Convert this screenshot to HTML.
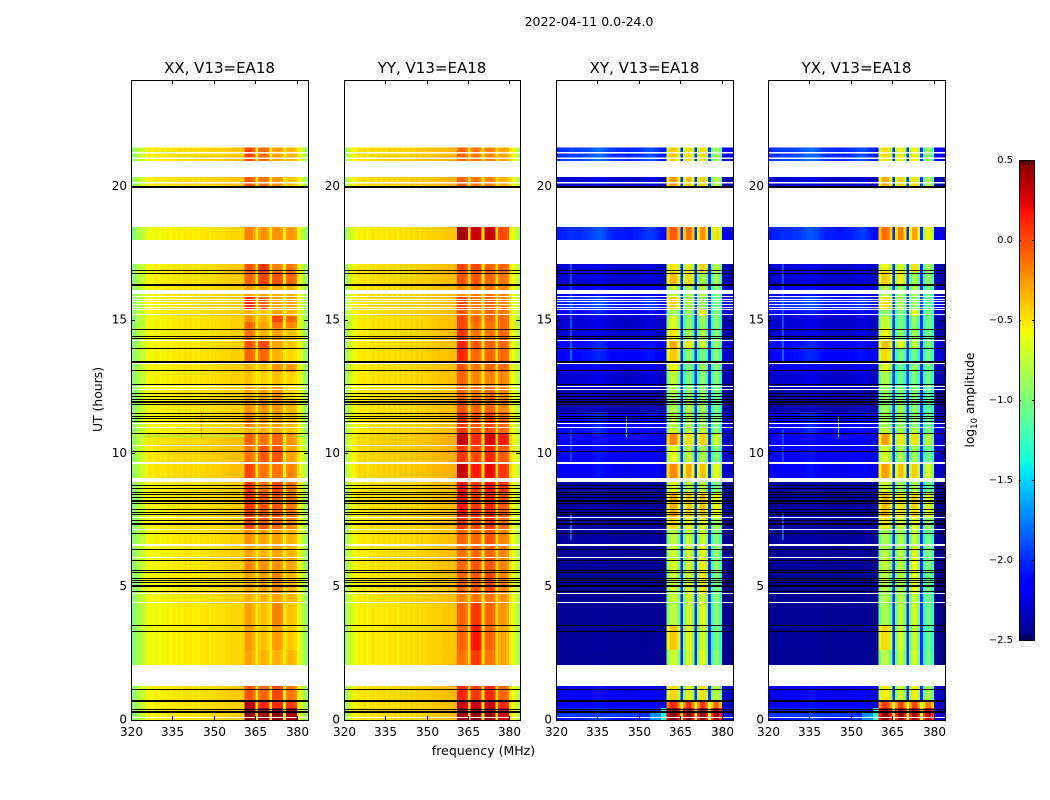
<!DOCTYPE html>
<html lang="en">
<head>
<meta charset="utf-8">
<title>2022-04-11 amplitude waterfall</title>
<style>
html,body{margin:0;padding:0;background:#fff;width:1050px;height:800px;overflow:hidden}
svg{display:block}
text{font-family:"DejaVu Sans","Liberation Sans",sans-serif;fill:#000}
</style>
</head>
<body>
<svg id="chart" xmlns="http://www.w3.org/2000/svg" width="1050" height="800" viewBox="0 0 1050 800">
<rect width="1050" height="800" fill="#fff"/>
<text x="589" y="26" text-anchor="middle" font-size="12.5">2022-04-11 0.0-24.0</text>
<text x="483.500" y="755" text-anchor="middle" font-size="12.5">frequency (MHz)</text>
<text transform="translate(102,399.500) rotate(-90)" text-anchor="middle" font-size="12.4">UT (hours)</text>
<text transform="translate(974,400) rotate(-90)" text-anchor="middle" font-size="12.2">log<tspan font-size="8.5" dy="3">10</tspan><tspan dy="-3"> amplitude</tspan></text>
<g id="panels"></g>
<g id="colorbar"></g>
</svg>
<script>
const panelTitles = ["XX, V13=EA18", "YY, V13=EA18", "XY, V13=EA18", "YX, V13=EA18"];
const freqTicks = [320, 335, 350, 365, 380];
const hourTicks = [0, 5, 10, 15, 20];
const colorbarTicks = [-2.5, -2.0, -1.5, -1.0, -0.5, 0.0, 0.5];

/* channel role: -1 continuum, -2 gap between sub-bands, 0..3 sub-band index */
const parallelChannelRole = [-1,-1,-1,-1,-1,-1,-1,-1,-1,-1,-1,-1,-1,-1,-1,-1,-1,-1,-1,-1,-1,-1,-1,-1,-1,-1,-1,-1,-1,-1,-1,-1,-1,-1,-1,-1,-1,-1,-1,-1,-1,0,0,0,0,-2,1,1,1,1,-2,2,2,2,2,-2,3,3,3,3,-1,-1,-1,-1];
const crossChannelRole = [-1,-1,-1,-1,-1,-1,-1,-1,-1,-1,-1,-1,-1,-1,-1,-1,-1,-1,-1,-1,-1,-1,-1,-1,-1,-1,-1,-1,-1,-1,-1,-1,-1,-1,-1,-1,-1,-1,-1,-1,0,0,0,0,0,-2,1,1,1,1,-2,2,2,2,2,-2,3,3,3,3,-1,-1,-1,-1];

/* log10 amplitude by channel; sub-band channels are relative to the band level */
const xxSpectrum = [-0.95,-0.88,-0.80,-0.74,-0.70,-0.62,-0.52,-0.56,-0.52,-0.50,-0.54,-0.50,-0.52,-0.48,-0.52,-0.48,-0.50,-0.47,-0.50,-0.46,-0.49,-0.46,-0.50,-0.46,-0.50,-0.46,-0.47,-0.45,-0.47,-0.44,-0.45,-0.44,-0.44,-0.43,-0.42,-0.42,-0.40,-0.40,-0.40,-0.40,-0.42,0.02,0.02,0.02,-0.06,-0.52,-0.03,0.02,0.02,-0.03,-0.55,0,0.02,0.02,-0.02,-0.52,-0.02,0.02,0,-0.04,-0.50,-0.62,-0.76,-0.88];
const yySpectrum = [-0.85,-0.75,-0.65,-0.58,-0.52,-0.47,-0.50,-0.45,-0.52,-0.47,-0.44,-0.50,-0.44,-0.48,-0.43,-0.49,-0.43,-0.47,-0.42,-0.48,-0.42,-0.46,-0.42,-0.46,-0.41,-0.45,-0.40,-0.44,-0.40,-0.42,-0.39,-0.40,-0.38,-0.38,-0.37,-0.37,-0.36,-0.36,-0.35,-0.34,-0.35,0.02,0.02,0.02,-0.06,-0.48,-0.03,0.02,0.02,-0.03,-0.50,0,0.02,0.02,-0.02,-0.46,-0.02,0.02,0,-0.04,-0.48,-0.55,-0.66,-0.80];
const crossSpectrum = [1.0,1.0,1.05,1.05,1.1,1.15,1.1,1.1,1.1,1.15,1.15,1.2,1.25,1.3,1.35,1.4,1.35,1.3,1.2,1.1,1.05,1.0,1.0,1.0,1.0,0.95,0.95,0.95,1.0,1.0,1.05,1.1,1.15,1.2,1.2,1.15,1.05,0.95,0.9,0.85,-0.25,0.02,0.02,0,-0.3,-2.0,-0.3,0,0.02,-0.3,-2.0,-0.3,0,0,-0.3,-2.0,-0.35,-0.03,0,-0.3,0.65,0.6,0.6,0.65];

/* time bands */
const bandTopHour = [21.46,20.36,18.49,17.1,16.8,16.31,15.9,15.38,15.15,14.93,14.7,14.21,13.91,13.43,13.05,12.53,12.0,11.55,10.95,10.73,10.28,9.64,8.93,8.55,7.58,7.13,6.53,6.08,5.55,4.76,4.39,3.56,2.63,1.28,0.75,0.45];
const bandBottomHour = [20.96,19.96,18.0,16.8,16.31,15.9,15.38,15.15,14.93,14.7,14.21,13.91,13.43,13.05,12.53,12.0,11.55,10.95,10.73,10.28,9.64,9.08,8.55,7.58,7.13,6.53,6.08,5.55,4.76,4.39,3.56,2.63,2.06,0.75,0.45,0];

const xxBandLevels = [
[0.0,-0.1,-0.3,-0.35],[-0.05,-0.15,-0.25,-0.4],[-0.2,-0.25,-0.25,-0.25],[-0.05,0.05,-0.2,-0.15],
[-0.1,0,-0.05,-0.1],[-0.3,-0.3,-0.35,-0.35],[0.1,-0.1,-0.3,-0.3],[-0.35,-0.4,-0.3,-0.35],
[-0.25,-0.35,0,-0.1],[-0.1,-0.3,-0.15,-0.2],[-0.15,-0.35,-0.3,-0.4],[-0.05,0,-0.3,-0.4],
[-0.1,-0.1,-0.35,-0.45],[-0.35,-0.4,-0.25,-0.25],[-0.4,-0.45,-0.4,-0.45],[-0.3,-0.3,-0.25,-0.45],
[-0.25,-0.25,-0.25,-0.35],[-0.2,-0.3,-0.3,-0.35],[-0.35,-0.35,-0.35,-0.4],[-0.1,-0.15,-0.1,-0.25],
[-0.15,-0.05,-0.05,-0.3],[0,-0.15,-0.15,-0.2],[0.05,-0.15,0,-0.15],[0.05,-0.05,-0.05,-0.15],
[0,-0.05,-0.1,-0.2],[-0.25,-0.3,-0.3,-0.35],[-0.3,-0.35,-0.3,-0.35],[-0.2,-0.25,-0.25,-0.3],
[-0.3,-0.3,-0.2,-0.35],[-0.35,-0.35,-0.3,-0.35],[-0.3,-0.4,-0.2,-0.4],[-0.28,-0.4,-0.28,-0.42],
[-0.3,-0.35,-0.35,-0.35],[-0.05,-0.1,0,-0.15],[0.35,0.1,0.1,0.05],[0.45,0.42,0.45,0.4]];
const yyBandLevels = [
[-0.1,-0.15,-0.2,-0.3],[-0.1,-0.15,-0.2,-0.35],[0.4,0.3,0.3,0.0],[0.0,0.0,-0.1,-0.1],
[-0.05,-0.05,-0.1,-0.15],[-0.25,-0.15,-0.15,-0.2],[0.0,-0.15,-0.1,-0.2],[-0.05,-0.2,-0.1,-0.15],
[0.0,-0.1,-0.1,-0.1],[0.0,-0.15,-0.15,-0.1],[0.05,-0.15,-0.15,-0.1],[0.1,-0.05,-0.1,-0.1],
[0.1,-0.1,-0.1,-0.1],[-0.05,-0.15,-0.1,-0.1],[-0.1,-0.2,-0.2,-0.2],[-0.1,-0.15,-0.1,-0.2],
[-0.05,-0.1,-0.1,-0.2],[0.05,-0.05,0.0,-0.1],[0.05,-0.05,0,-0.1],[0.3,0.1,0.25,0.15],
[0.05,0.0,0.1,-0.05],[0.3,0.15,0.2,0.05],[0.15,0.05,0.15,0.05],[0.15,0.05,0.1,-0.05],
[0.05,0.0,0.05,-0.1],[-0.1,-0.1,-0.05,-0.2],[-0.15,-0.1,-0.1,-0.2],[-0.1,-0.05,-0.05,-0.2],
[-0.1,-0.05,0.0,-0.2],[-0.2,-0.15,-0.15,-0.25],[-0.1,0.05,-0.1,-0.25],[-0.1,0.15,-0.1,-0.3],
[-0.15,0.05,-0.15,-0.3],[0.1,0.05,0.1,-0.1],[0.3,0.3,0.3,0.1],[0.42,0.45,0.42,0.3]];
const crossBandLevels = [
[-0.5,-0.55,-0.55,-0.9],[-0.35,-0.45,-0.5,-0.8],[-0.15,-0.2,-0.3,-0.55],[-0.6,-0.65,-0.5,-0.8],
[-0.45,-0.55,-0.85,-0.9],[-0.8,-0.85,-0.8,-1.0],[-0.5,-0.8,-0.9,-1.05],[-0.9,-0.95,-0.6,-1.0],
[-0.75,-1.0,-0.9,-1.0],[-0.75,-1.0,-0.95,-1.0],[-0.6,-0.9,-0.85,-1.0],[-0.4,-0.6,-0.75,-0.95],
[-0.5,-1.0,-1.05,-1.0],[-0.65,-1.05,-0.9,-1.0],[-0.85,-1.05,-1.0,-1.0],[-0.9,-0.95,-0.95,-1.05],
[-0.9,-0.85,-0.9,-1.05],[-0.85,-0.85,-0.9,-1.0],[-0.75,-0.8,-0.75,-0.95],[-0.3,-0.55,-0.5,-0.75],
[-0.7,-0.8,-0.85,-1.0],[-0.3,-0.4,-0.45,-0.65],[-0.7,-0.8,-0.8,-1.0],[-0.4,-0.5,-0.45,-0.6],
[-0.55,-0.65,-0.65,-0.85],[-0.85,-0.8,-0.75,-1.0],[-0.8,-0.75,-0.65,-0.95],[-0.75,-0.75,-0.6,-0.95],
[-0.8,-0.75,-0.6,-1.0],[-0.8,-0.75,-0.75,-1.0],[-0.85,-0.75,-0.7,-1.0],[-0.5,-0.7,-0.75,-1.05],
[-0.8,-0.75,-0.7,-1.0],[-0.55,-0.7,-0.55,-0.8],[0,0,0,-0.15],[0.4,0.42,0.4,0.35]];
const parallelContinuumShift = [0,0,-0.05,-0.02,-0.02,-0.02,-0.02,-0.02,-0.03,-0.03,-0.03,-0.03,-0.03,-0.03,-0.03,-0.03,-0.03,-0.03,-0.03,0.02,0.02,0.02,-0.02,-0.02,-0.02,-0.03,-0.03,-0.03,-0.03,-0.03,-0.05,-0.05,-0.05,-0.02,-0.02,-0.02];
const crossContinuum = [-2.0,-2.3,-2.05,-2.3,-2.3,-2.2,-2.05,-2.15,-2.3,-2.3,-2.3,-2.15,-2.15,-2.25,-2.3,-2.38,-2.38,-2.15,-2.15,-2.2,-2.2,-2.2,-2.42,-2.42,-2.42,-2.42,-2.45,-2.45,-2.45,-2.45,-2.45,-2.44,-2.45,-2.2,-2.2,-2.1];
const xyLevelShift = 0.08;
const yxLevelShift = 0.02;

/* localized features: first channel, end channel, top hour, bottom hour, level */
const crossFeatures = [
[5.2,5.6,17.1,14.25,-1.65],[5.2,5.6,14.25,13.4,-1.55],[5.2,5.6,10.9,9.7,-1.7],[5.2,5.6,7.75,6.75,-1.5],
[25.3,25.7,11.35,10.6,-1.35],[0,40,0.3,0.13,-1.95],[30,34,0.3,0,-2.0],[34,38,0.3,0,-1.7],[38,40,0.45,0,-1.3],
[45,46,0.7,0,-0.7],[50,51,0.7,0,-0.7],[55,56,0.7,0,-0.7]];
const xxFeatures = [[0,41,10.67,10.62,-0.8],[60,64,10.67,10.62,-1.0],[25.3,25.7,11.6,10.6,-0.2]];

/* sub-0.2 h empty gaps inside bands */
const blankTopHour = [21.30,21.10,20.17,16.125];
const blankBottomHour = [21.24,21.04,20.11,15.975];
const whiteFlagHours = [15.87,15.78,15.68,15.59,15.48,15.38,15.21,14.24,13.95,13.38,12.50,12.38,11.13,10.96,10.29,9.66,9.62,7.60,7.15,6.58,6.53,6.09,4.75,4.41,0.09];
const blackFlagHours = [20.02,19.98,16.86,16.74,16.33,16.29,14.65,14.37,14.31,13.92,13.46,13.41,13.09,12.59,12.25,12.15,12.03,11.95,11.90,11.84,11.50,11.40,11.31,11.19,10.75,10.06,8.79,8.69,8.54,8.46,8.35,8.25,8.19,8.13,7.88,7.79,7.71,7.47,7.38,7.32,7.0,6.40,5.97,5.61,5.52,5.29,5.22,5.15,5.06,5.0,4.83,3.55,3.33,1.15,0.74,0.70,0.40,0.33,0.29];

const SVGNS = "http://www.w3.org/2000/svg";
const panelLefts = [131, 344, 556, 768];
const panelWidths = [177, 176, 177, 177];
const plotTop = 80, plotBottom = 720;
const freqMin = 320, freqMax = 384, hourMax = 24, channelCount = 64;
const valueMin = -2.5, valueMax = 0.5;

function yScale(hour) { return plotBottom - (hour / hourMax) * (plotBottom - plotTop); }
function xScale(left, width, freq) { return left + (freq - freqMin) / (freqMax - freqMin) * width; }
function channelX(left, width, ch) { return left + ch / channelCount * width; }

function ramp(t, pts) {
  for (let i = 1; i < pts.length; i++) {
    if (t <= pts[i][0]) {
      const a = pts[i - 1], b = pts[i];
      return a[1] + (b[1] - a[1]) * (t - a[0]) / (b[0] - a[0]);
    }
  }
  return pts[pts.length - 1][1];
}
function jet(value) {
  const t = Math.max(0, Math.min(1, (value - valueMin) / (valueMax - valueMin)));
  const r = ramp(t, [[0,0],[0.35,0],[0.66,1],[0.89,1],[1,0.5]]);
  const g = ramp(t, [[0,0],[0.125,0],[0.375,1],[0.64,1],[0.91,0],[1,0]]);
  const b = ramp(t, [[0,0.5],[0.11,1],[0.34,1],[0.65,0],[1,0]]);
  return "rgb(" + Math.round(r * 255) + "," + Math.round(g * 255) + "," + Math.round(b * 255) + ")";
}
function makeRect(parent, x, y, w, h, fill) {
  const r = document.createElementNS(SVGNS, "rect");
  r.setAttribute("x", x);
  r.setAttribute("y", y);
  r.setAttribute("width", w);
  r.setAttribute("height", h);
  r.setAttribute("fill", fill);
  r.setAttribute("shape-rendering", "crispEdges");
  parent.appendChild(r);
  return r;
}
function makeLine(parent, x1, y1, x2, y2) {
  const l = document.createElementNS(SVGNS, "line");
  l.setAttribute("x1", x1);
  l.setAttribute("y1", y1);
  l.setAttribute("x2", x2);
  l.setAttribute("y2", y2);
  l.setAttribute("stroke", "#000");
  l.setAttribute("stroke-width", "1");
  l.setAttribute("shape-rendering", "crispEdges");
  parent.appendChild(l);
  return l;
}
function makeText(parent, x, y, anchor, size, str) {
  const t = document.createElementNS(SVGNS, "text");
  t.setAttribute("x", x);
  t.setAttribute("y", y);
  t.setAttribute("text-anchor", anchor);
  t.setAttribute("font-size", size);
  t.textContent = str;
  parent.appendChild(t);
  return t;
}
function cellValue(panel, band, ch) {
  if (panel < 2) {
    const spectrum = panel === 0 ? xxSpectrum : yySpectrum;
    const levels = panel === 0 ? xxBandLevels : yyBandLevels;
    const role = parallelChannelRole[ch];
    if (role >= 0) return levels[band][role] + spectrum[ch];
    if (role === -2) return spectrum[ch];
    return spectrum[ch] + parallelContinuumShift[band];
  }
  const shift = panel === 3 ? yxLevelShift : xyLevelShift;
  const role = crossChannelRole[ch];
  if (role >= 0) return crossBandLevels[band][role] + crossSpectrum[ch] + shift;
  if (role === -2) return crossSpectrum[ch];
  return valueMin + (crossContinuum[band] - valueMin) * crossSpectrum[ch];
}

const panelsRoot = document.getElementById("panels");
panelTitles.forEach(function (title, p) {
  const left = panelLefts[p];
  const panelWidth = panelWidths[p];
  const g = document.createElementNS(SVGNS, "g");
  
  
  panelsRoot.appendChild(g);

  bandTopHour.forEach(function (topHour, b) {
    const y0 = yScale(topHour), y1 = yScale(bandBottomHour[b]);
    for (let ch = 0; ch < channelCount; ch++) {
      const x0 = channelX(left, panelWidth, ch), x1 = channelX(left, panelWidth, ch + 1);
      const cell = makeRect(g, x0, y0, x1 - x0 + 0.3, y1 - y0, jet(cellValue(p, b, ch)));
      
      
    }
  });

  const features = p >= 2 ? crossFeatures : (p === 0 ? xxFeatures : []);
  features.forEach(function (f) {
    const x0 = channelX(left, panelWidth, f[0]), x1 = channelX(left, panelWidth, f[1]);
    const y0 = yScale(f[2]), y1 = yScale(f[3]);
    const feature = makeRect(g, x0, y0, Math.max(1, x1 - x0), Math.max(1, y1 - y0), jet(f[4]));
    
    
  });

  blankTopHour.forEach(function (topHour, i) {
    const y0 = yScale(topHour), y1 = yScale(blankBottomHour[i]);
    const blank = makeRect(g, left, y0, panelWidth, y1 - y0, "#fff");
    
    
  });
  whiteFlagHours.forEach(function (hour) {
    const whiteRow = makeRect(g, left, Math.round(yScale(hour) - 0.5), panelWidth, 1, "#fff");
    
    
  });
  blackFlagHours.forEach(function (hour) {
    const blackRow = makeRect(g, left, Math.round(yScale(hour) - 0.5), panelWidth, 1, "#000");
    
    
  });

  const frame = document.createElementNS(SVGNS, "rect");
  frame.setAttribute("x", left + 0.5);
  frame.setAttribute("y", plotTop + 0.5);
  frame.setAttribute("width", panelWidth);
  frame.setAttribute("height", plotBottom - plotTop);
  frame.setAttribute("fill", "none");
  frame.setAttribute("stroke", "#000");
  frame.setAttribute("stroke-width", "1");
  frame.setAttribute("shape-rendering", "crispEdges");
  
  
  g.appendChild(frame);

  freqTicks.forEach(function (freq) {
    const x = Math.round(xScale(left, panelWidth, freq)) + 0.5;
    const tickBottom = makeLine(g, x, plotBottom, x, plotBottom - 4);
    
    
    const tickTop = makeLine(g, x, plotTop, x, plotTop + 4);
    
    
    const label = makeText(g, x, plotBottom + 16, "middle", 12, String(freq));
    
    
  });
  hourTicks.forEach(function (hour) {
    const y = Math.floor(yScale(hour)) + 0.5;
    const tickLeft = makeLine(g, left, y, left + 4, y);
    
    
    const tickRight = makeLine(g, left + panelWidth, y, left + panelWidth - 4, y);
    
    
    const label = makeText(g, left - 4, yScale(hour) + 3.5, "end", 12, String(hour));
    
    
  });

  const titleText = makeText(g, left + panelWidth / 2, 73, "middle", 15, title);
  
  
});

/* colorbar */
const cbRoot = document.getElementById("colorbar");
const cbLeft = 1019, cbRight = 1034, cbTop = 160, cbBottom = 640;
function cbY(value) { return cbBottom - (value - valueMin) / (valueMax - valueMin) * (cbBottom - cbTop); }
const cbSteps = 256;
for (let i = 0; i < cbSteps; i++) {
  const v0 = valueMin + (valueMax - valueMin) * i / cbSteps;
  const v1 = valueMin + (valueMax - valueMin) * (i + 1) / cbSteps;
  const swatch = makeRect(cbRoot, cbLeft, cbY(v1), cbRight - cbLeft, cbY(v0) - cbY(v1) + 0.4, jet((v0 + v1) / 2));
  
  
}
const cbFrame = document.createElementNS(SVGNS, "rect");
cbFrame.setAttribute("x", cbLeft + 0.5);
cbFrame.setAttribute("y", cbTop + 0.5);
cbFrame.setAttribute("width", cbRight - cbLeft);
cbFrame.setAttribute("height", cbBottom - cbTop);
cbFrame.setAttribute("fill", "none");
cbFrame.setAttribute("stroke", "#000");
cbFrame.setAttribute("shape-rendering", "crispEdges");


cbRoot.appendChild(cbFrame);
colorbarTicks.forEach(function (value) {
  const y = Math.round(cbY(value)) + 0.5;
  const tickA = makeLine(cbRoot, cbLeft, y, cbLeft + 2, y);
  
  
  const tickB = makeLine(cbRoot, cbRight, y, cbRight - 2, y);
  
  
  const str = (value < 0 ? "\u2212" : "") + Math.abs(value).toFixed(1);
  const label = makeText(cbRoot, 1013, y + 2.5, "end", 10, str);
  
  
});
for (let x = cbLeft + 3; x < cbRight; x += 3) {
  const topMark = makeLine(cbRoot, x + 0.5, cbTop, x + 0.5, cbTop + 5);
  
  
  const bottomMark = makeLine(cbRoot, x + 0.5, cbBottom, x + 0.5, cbBottom - 5);
  
  
}
const dots = makeText(cbRoot, 1026, 647, "middle", 6, "......");
dots.setAttribute("style", "fill:#888");


</script>
</body>
</html>
